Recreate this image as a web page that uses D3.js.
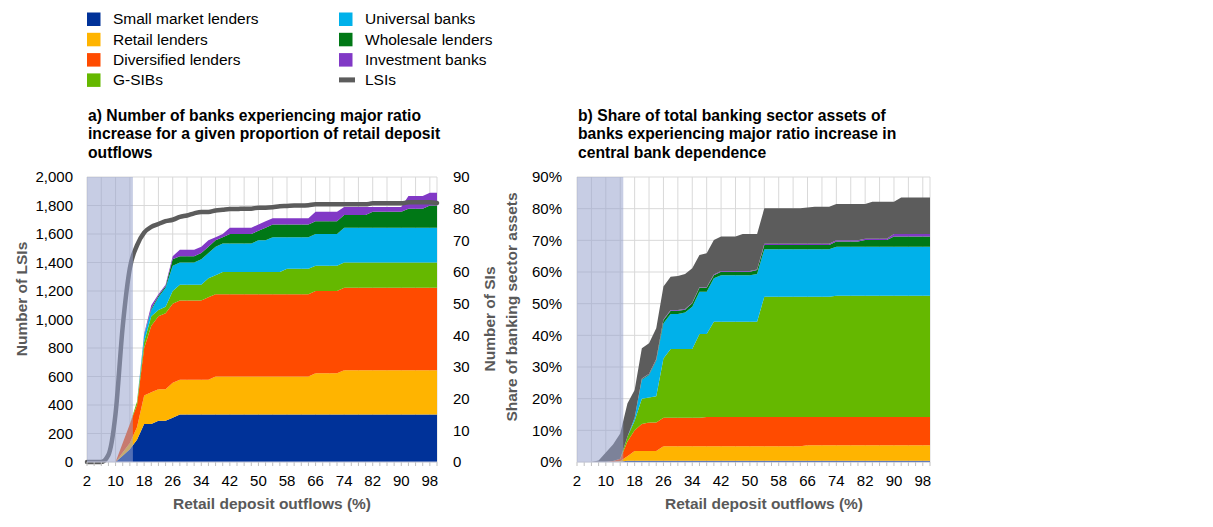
<!DOCTYPE html>
<html>
<head>
<meta charset="utf-8">
<script src="https://cdn.jsdelivr.net/npm/d3@7"></script>
<style>
  body { margin: 0; background: #fff; }
  text { font-family: "Liberation Sans", Arial, sans-serif; }
</style>
</head>
<body>
<svg id="chart" width="1213" height="527"></svg>
<script>
// retail deposit outflows (%), x categories
const outflows = [
  2, 4, 6, 8, 10, 12, 14, 16, 18, 20,
  22, 24, 26, 28, 30, 32, 34, 36, 38, 40,
  42, 44, 46, 48, 50, 52, 54, 56, 58, 60,
  62, 64, 66, 68, 70, 72, 74, 76, 78, 80,
  82, 84, 86, 88, 90, 92, 94, 96, 98, 100]
const xTicks = [2, 10, 18, 26, 34, 42, 50, 58, 66, 74, 82, 90, 98]
const shaded = [2, 14.85]

const seriesNames = ["Small market lenders", "Retail lenders", "Diversified lenders", "G-SIBs",
                     "Universal banks", "Wholesale lenders", "Investment banks", "LSIs"]
const seriesColors = ["#003299", "#ffb400", "#ff4b00", "#65b800",
                      "#00b1ea", "#007816", "#8139c6", "#5c5c5c"]

// panel a: number of SIs (right axis) by business model
const smallA = [
  0, 0, 0, 0, 0, 2, 4, 7, 12, 12,
  13, 13, 14, 15, 15, 15, 15, 15, 15, 15,
  15, 15, 15, 15, 15, 15, 15, 15, 15, 15,
  15, 15, 15, 15, 15, 15, 15, 15, 15, 15,
  15, 15, 15, 15, 15, 15, 15, 15, 15, 15]
const retailA = [
  0, 0, 0, 0, 0, 1, 2, 4, 9, 10,
  10, 10, 11, 11, 11, 11, 11, 11, 12, 12,
  12, 12, 12, 12, 12, 12, 12, 12, 12, 12,
  12, 12, 13, 13, 13, 13, 14, 14, 14, 14,
  14, 14, 14, 14, 14, 14, 14, 14, 14, 14]
const diversA = [
  0, 0, 0, 0, 0, 3, 6, 7, 15, 21,
  23, 24, 25, 25, 25, 25, 25, 26, 26, 26,
  26, 26, 26, 26, 26, 26, 26, 26, 26, 26,
  26, 26, 26, 26, 26, 26, 26, 26, 26, 26,
  26, 26, 26, 26, 26, 26, 26, 26, 26, 26]
const gsibA = [
  0, 0, 0, 0, 0, 0, 0, 1, 2, 3,
  2, 2, 4, 5, 5, 5, 5, 6, 6, 7,
  7, 7, 7, 7, 7, 7, 7, 7, 8, 8,
  8, 8, 8, 8, 8, 8, 8, 8, 8, 8,
  8, 8, 8, 8, 8, 8, 8, 8, 8, 8]
const univA = [
  0, 0, 0, 0, 0, 0, 0, 0, 2, 2,
  4, 6, 8, 7, 7, 7, 8, 8, 9, 9,
  9, 9, 9, 9, 10, 10, 11, 11, 10, 10,
  10, 10, 10, 10, 10, 10, 11, 11, 11, 11,
  11, 11, 11, 11, 11, 11, 11, 11, 11, 11]
const wholeA = [
  0, 0, 0, 0, 0, 0, 0, 0, 0, 0.5,
  0.5, 0.5, 2, 2, 2, 2, 2, 2, 2, 2,
  3, 3, 3, 3, 3, 4, 4, 4, 4, 4,
  4, 4, 4, 4, 4, 4, 4, 4, 4, 4,
  5, 5, 5, 5, 5, 6, 6, 6, 7, 7]
const investA = [
  0, 0, 0, 0, 0, 0, 0, 0, 0.5, 1,
  0.5, 0.5, 1, 2, 2, 2, 2, 2, 1, 1,
  2, 2, 2, 2, 2, 2, 2, 2, 2, 2,
  2, 2, 3, 3, 3, 3, 2.5, 2.5, 2.5, 2.5,
  1.5, 1.5, 1.5, 1.5, 1.5, 4, 4, 4, 4, 4]
// number of LSIs (left axis)
const lsiA = [
  0, 0, 0, 50, 340, 950, 1360, 1520, 1610, 1650,
  1670, 1690, 1700, 1720, 1730, 1745, 1755, 1755, 1765, 1770,
  1775, 1775, 1778, 1778, 1785, 1785, 1788, 1795, 1797, 1800,
  1800, 1802, 1808, 1808, 1808, 1808, 1808, 1808, 1808, 1808,
  1815, 1815, 1815, 1815, 1815, 1822, 1822, 1822, 1822, 1818]

// panel b: share of total banking sector assets (%)
const smallB = [
  0, 0, 0, 0, 0, 0, 0.1, 0.4, 0.4, 0.4,
  0.4, 0.4, 0.4, 0.4, 0.4, 0.4, 0.4, 0.4, 0.4, 0.4,
  0.4, 0.4, 0.4, 0.4, 0.4, 0.4, 0.4, 0.4, 0.4, 0.4,
  0.4, 0.4, 0.4, 0.4, 0.4, 0.4, 0.4, 0.4, 0.4, 0.4,
  0.4, 0.4, 0.4, 0.4, 0.4, 0.4, 0.4, 0.4, 0.4, 0.4]
const retailB = [
  0, 0, 0, 0, 0, 0, 0.2, 1.4, 3.1, 3.1,
  3.1, 3.1, 4.6, 4.6, 4.6, 4.6, 4.6, 4.6, 4.6, 4.6,
  4.6, 4.6, 4.6, 4.6, 4.6, 4.6, 4.6, 4.6, 4.6, 4.6,
  4.6, 4.6, 4.9, 4.9, 4.9, 4.9, 4.9, 4.9, 4.9, 4.9,
  4.9, 4.9, 4.9, 4.9, 4.9, 4.9, 4.9, 4.9, 4.9, 4.9]
const diversB = [
  0, 0, 0, 0, 0, 0.3, 0.7, 4.7, 6.5, 8.5,
  9, 9, 9, 9, 9, 9, 9, 9, 9.2, 9.2,
  9.2, 9.2, 9.2, 9.2, 9.2, 9.2, 9.2, 9.2, 9.2, 9.2,
  9.2, 9.2, 8.9, 8.9, 8.9, 8.9, 8.9, 8.9, 8.9, 8.9,
  8.9, 8.9, 8.9, 8.9, 8.9, 8.9, 8.9, 8.9, 8.9, 8.9]
const gsibB = [
  0, 0, 0, 0, 0, 0, 0, 1.5, 3, 8,
  7.9, 8.3, 18.7, 21.7, 21.7, 21.7, 21.7, 26.4, 26.2, 30.1,
  30.1, 30.1, 30.1, 30.1, 30.1, 30.1, 38, 38, 38, 38,
  38, 38, 38, 38, 38, 38, 38.3, 38.3, 38.3, 38.3,
  38.3, 38.3, 38.3, 38.3, 38.3, 38.3, 38.3, 38.3, 38.3, 38.3]
const univB = [
  0, 0, 0, 0, 0, 0, 0, 0, 1, 6,
  7.1, 11.2, 11.1, 11, 11, 11.5, 13.3, 13.4, 13.4, 13.7,
  14.7, 14.7, 14.7, 14.7, 14.7, 15.1, 15, 15, 15, 15,
  15, 15, 15, 15, 15, 15, 15.5, 15.5, 15.5, 15.5,
  15.5, 15.5, 15.5, 15.5, 15.5, 15.5, 15.5, 15.5, 15.5, 15.5]
const wholeB = [
  0, 0, 0, 0, 0, 0, 0, 0, 0, 0.2,
  0.2, 0.3, 1, 1.1, 1.1, 0.9, 1.1, 1.2, 1.2, 1,
  1.1, 1.1, 1.1, 1.1, 1.1, 1.2, 1.3, 1.3, 1.3, 1.3,
  1.3, 1.3, 1.3, 1.3, 1.3, 1.3, 1.6, 1.6, 1.6, 1.6,
  2.1, 2.1, 2.1, 2.1, 3.2, 3.2, 3.2, 3.2, 3.2, 3.2]
const investB = [
  0, 0, 0, 0, 0, 0, 0, 0, 0, 0.2,
  0.2, 0.2, 0.2, 0.2, 0.2, 0.2, 0.2, 0.2, 0.2, 0.2,
  0.2, 0.2, 0.2, 0.2, 0.2, 0.2, 0.4, 0.4, 0.4, 0.4,
  0.4, 0.4, 0.4, 0.4, 0.4, 0.4, 0.4, 0.4, 0.4, 0.4,
  0.4, 0.4, 0.4, 0.4, 0.8, 0.8, 0.8, 0.8, 0.8, 0.8]
const lsiB = [
  0, 0, 0, 0.5, 3, 5.2, 8, 10.5, 8.7, 9.5,
  9.6, 9.7, 10.4, 10.5, 10.7, 11.1, 10.9, 10.2, 10.7, 10.9,
  10.9, 10.9, 10.9, 11.7, 11.7, 11.2, 11.2, 11.2, 11.2, 11.2,
  11.2, 11.2, 11.5, 11.7, 11.7, 11.7, 11.5, 11.5, 11.5, 11.5,
  11, 11.7, 11.7, 11.7, 10.2, 11.5, 11.5, 11.5, 11.5, 11.5]

const keys = ["small", "retail", "divers", "gsib", "univ", "whole", "invest", "lsi"]
const colorOf = d3.scaleOrdinal(keys, seriesColors)

const rowsA = outflows.map((c, i) => ({ cat: c, small: smallA[i], retail: retailA[i], divers: diversA[i],
  gsib: gsibA[i], univ: univA[i], whole: wholeA[i], invest: investA[i], lsi: lsiA[i] }))
const rowsB = outflows.map((c, i) => ({ cat: c, small: smallB[i], retail: retailB[i], divers: diversB[i],
  gsib: gsibB[i], univ: univB[i], whole: wholeB[i], invest: investB[i], lsi: lsiB[i] }))

const svg = d3.select("#chart")
const plotTop = 177, plotBottom = 462
const grid = "#d9d9d9"
const axisGrey = "#595959"

// ---- legend
const legend = svg.append("g").attr("font-size", 15.5)
seriesNames.forEach((name, i) => {
  const col = Math.floor(i / 4), row = i % 4
  const x = col ? 339 : 87, y = 19 + row * 20.3
  const g = legend.append("g")
  if (keys[i] === "lsi") {
    g.append("rect").attr("x", x).attr("y", y - 2.5).attr("width", 16).attr("height", 5).attr("fill", seriesColors[i])
  } else {
    g.append("rect").attr("x", x).attr("y", y - 6.5).attr("width", 13.5).attr("height", 13.5).attr("fill", seriesColors[i])
  }
  g.append("text").attr("x", x + 26).attr("y", y).attr("dy", "0.35em").text(name)
})

// ---- helpers
function title(x, lines) {
  const t = svg.append("text").attr("font-size", 15.7).attr("font-weight", "bold").attr("fill", "#000")
  lines.forEach((l, i) => t.append("tspan").attr("x", x).attr("y", 120.5 + i * 18.5).text(l))
}

function gridLines(x, yScale, tickVals) {
  const g = svg.append("g")
  g.selectAll(".h").data(tickVals).join("line")
    .attr("x1", x.range()[0]).attr("x2", x.range()[1])
    .attr("y1", d => yScale(d)).attr("y2", d => yScale(d))
    .attr("stroke", grid)
  const vt = outflows.filter((c, i) => i % 2 === 0).concat([100])
  g.selectAll(".v").data(vt).join("line")
    .attr("x1", d => x(d)).attr("x2", d => x(d))
    .attr("y1", plotTop).attr("y2", plotBottom)
    .attr("stroke", grid)
}

function shade(x) {
  svg.append("rect")
    .attr("x", x(shaded[0])).attr("width", x(shaded[1]) - x(shaded[0]))
    .attr("y", plotTop).attr("height", plotBottom - plotTop)
    .attr("fill", "rgb(152,162,205)").attr("fill-opacity", 0.54)
}

function xAxis(x, titleX) {
  const g = svg.append("g")
  g.selectAll("line").data(outflows).join("line")
    .attr("x1", d => x(d)).attr("x2", d => x(d))
    .attr("y1", plotBottom).attr("y2", plotBottom + 4)
    .attr("stroke", "#bfbfbf")
  g.append("line").attr("x1", x.range()[0]).attr("x2", x.range()[1])
    .attr("y1", plotBottom).attr("y2", plotBottom).attr("stroke", "#c6c9dc")
  g.selectAll("text").data(xTicks).join("text")
    .attr("x", d => x(d)).attr("y", 481).attr("dy", "0.35em")
    .attr("text-anchor", "middle").attr("font-size", 15).text(d => d)
  svg.append("text").attr("x", titleX).attr("y", 504).attr("dy", "0.35em")
    .attr("text-anchor", "middle").attr("font-size", 15.5).attr("font-weight", "bold")
    .attr("fill", axisGrey).text("Retail deposit outflows (%)")
}

function yTitle(cx, cy, label) {
  svg.append("text").attr("transform", `translate(${cx},${cy}) rotate(-90)`)
    .attr("text-anchor", "middle").attr("dy", "0.35em")
    .attr("font-size", 15.5).attr("font-weight", "bold").attr("fill", axisGrey).text(label)
}

function yLabels(scale, vals, x, anchor, fmt) {
  svg.append("g").selectAll("text").data(vals).join("text")
    .attr("x", x).attr("y", d => scale(d)).attr("dy", "0.35em")
    .attr("text-anchor", anchor).attr("font-size", 15).text(fmt)
}

// ---- panel a
const xA = d3.scaleLinear().domain([2, 100]).range([87, 437])
const yLeft = d3.scaleLinear().domain([0, 2000]).range([plotBottom, plotTop])
const yRight = d3.scaleLinear().domain([0, 90]).range([plotBottom, plotTop])

title(88, ["a) Number of banks experiencing major ratio",
           "increase for a given proportion of retail deposit",
           "outflows"])
gridLines(xA, yLeft, d3.range(0, 2001, 200))

const stackA = d3.stack().keys(keys.slice(0, 7))(rowsA)
const areaA = d3.area().x(d => xA(d.data.cat)).y0(d => yRight(d[0])).y1(d => yRight(d[1]))
svg.append("g").selectAll("path").data(stackA).join("path")
  .attr("d", areaA).attr("fill", d => colorOf(d.key))

svg.append("path").datum(rowsA)
  .attr("d", d3.line().x(d => xA(d.cat)).y(d => yLeft(d.lsi)).curve(d3.curveMonotoneX))
  .attr("fill", "none").attr("stroke", "#5c5c5c").attr("stroke-width", 4.5)
  .attr("stroke-linecap", "round")

shade(xA)
xAxis(xA, 272)
yLabels(yLeft, d3.range(0, 2001, 200), 73, "end", d3.format(","))
yLabels(yRight, d3.range(0, 91, 10), 453, "start", d => d)
yTitle(22, 299, "Number of LSIs")
yTitle(490, 319, "Number of SIs")

// ---- panel b
const xB = d3.scaleLinear().domain([2, 100]).range([577, 930])
const yB = d3.scaleLinear().domain([0, 90]).range([plotBottom, plotTop])

title(578, ["b) Share of total banking sector assets of",
            "banks experiencing major ratio increase in",
            "central bank dependence"])
gridLines(xB, yB, d3.range(0, 91, 10))

const stackB = d3.stack().keys(keys)(rowsB)
const areaB = d3.area().x(d => xB(d.data.cat)).y0(d => yB(d[0])).y1(d => yB(d[1]))
svg.append("g").selectAll("path").data(stackB).join("path")
  .attr("d", areaB).attr("fill", d => colorOf(d.key))

shade(xB)
xAxis(xB, 764)
yLabels(yB, d3.range(0, 91, 10), 562, "end", d => d + "%")
yTitle(512, 307, "Share of banking sector assets")
</script>
</body>
</html>
